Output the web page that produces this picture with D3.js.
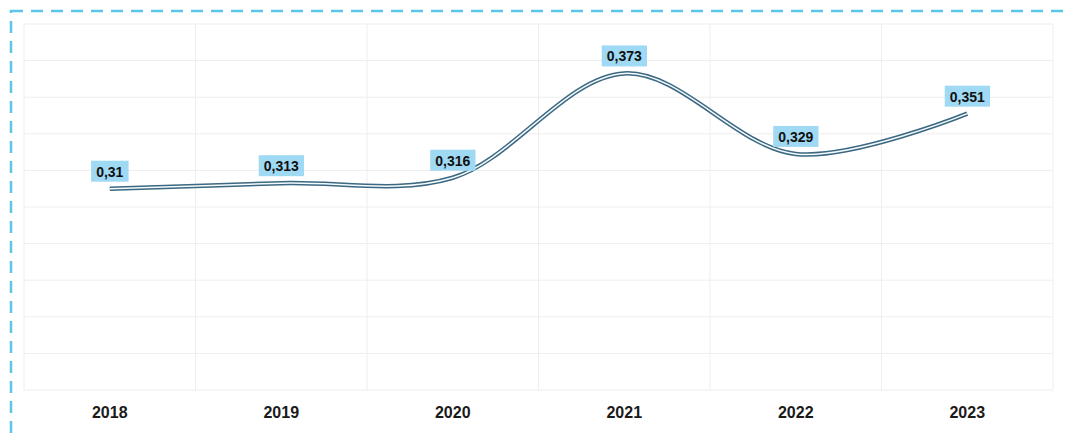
<!DOCTYPE html>
<html><head><meta charset="utf-8">
<script src="https://cdn.jsdelivr.net/npm/d3@7"></script>
<style>html,body{margin:0;padding:0;background:#fff;}svg{display:block;font-family:"Liberation Sans",Arial,sans-serif;}</style>
</head><body>
<svg id="c" width="1070" height="441"></svg>
<script>
const categories = ["2018","2019","2020","2021","2022","2023"];
const values = [0.31, 0.313, 0.316, 0.373, 0.329, 0.351];
const labels = ["0,31","0,313","0,316","0,373","0,329","0,351"];
const yTicks = [0.2,0.22,0.24,0.26,0.28,0.3,0.32,0.34,0.36,0.38,0.4];

const svg = d3.select("#c");
const W = 1070, H = 441;
const m = {l:24, r:17, t:24, b:51};
const x = d3.scaleBand().domain(categories).range([m.l, W - m.r]);
const y = d3.scaleLinear().domain([0.2, 0.4]).range([H - m.b, m.t]);

// dashed frame
svg.append("rect").attr("x",11).attr("y",11).attr("width",W+20).attr("height",H+20)
  .attr("fill","none").attr("stroke","#5cc6ea").attr("stroke-width",2.5).attr("stroke-dasharray","12,8");

const g = svg.append("g");
g.selectAll("line.h").data(yTicks).join("line")
  .attr("x1", m.l).attr("x2", W - m.r)
  .attr("y1", d => y(d)).attr("y2", d => y(d))
  .attr("stroke","#eeeeee").attr("stroke-width",1);
const edges = categories.map(c => x(c)).concat([x(categories[categories.length-1]) + x.bandwidth()]);
g.selectAll("line.v").data(edges).join("line")
  .attr("x1", d => d).attr("x2", d => d)
  .attr("y1", m.t).attr("y2", H - m.b)
  .attr("stroke","#eeeeee").attr("stroke-width",1);

// x axis labels
const xAxis = d3.axisBottom(x).tickSize(0).tickPadding(17);
const ax = svg.append("g").attr("transform",`translate(0,${H - m.b})`).call(xAxis);
ax.select(".domain").remove();
ax.selectAll("text").attr("font-size",16).attr("font-weight","bold").attr("fill","#1a1a1a")
  .attr("font-family","Liberation Sans, Arial, sans-serif");

const cx = c => x(c) + x.bandwidth()/2;
const pts = categories.map((c,i) => [cx(c), y(values[i])]);
const line = d3.line().curve(d3.curveCatmullRom.alpha(0.5));
svg.append("path").attr("d", line(pts)).attr("fill","none").attr("stroke","#3c6882").attr("stroke-width",4.5);
svg.append("path").attr("d", line(pts)).attr("fill","none").attr("stroke","#f4fbff").attr("stroke-width",1.5);

// data labels
const lg = svg.append("g").attr("font-size",14).attr("font-weight","bold");
categories.forEach((c,i) => {
  const base = y(values[i]) - 12;
  const t = lg.append("text").attr("x", cx(c)).attr("y", base)
    .attr("text-anchor","middle").attr("fill","#111").text(labels[i]);
  const bb = t.node().getBBox();
  lg.insert("rect","text").attr("x", bb.x - 5).attr("y", base - 16)
    .attr("width", bb.width + 10).attr("height", 21).attr("fill","#9fd9f3");
});
</script>
</body></html>
